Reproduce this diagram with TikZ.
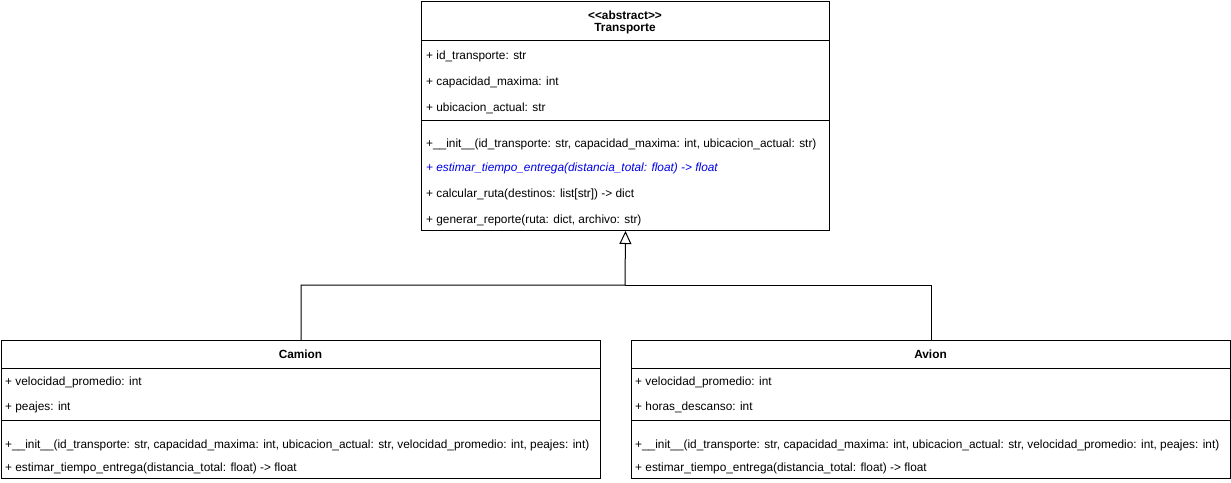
\documentclass[tikz,border=0pt]{standalone}
\usepackage{fontspec}
\setmainfont{Liberation Sans}[Ligatures=TeXOff]
\usetikzlibrary{arrows.meta}
\definecolor{absblue}{RGB}{0,0,230}
\tikzset{
  box/.style={draw=black, line width=1pt, anchor=north west, inner sep=0pt},
  sep/.style={draw=black, line width=1pt},
  member/.style={anchor=mid west, inner sep=0pt, font=\fontsize{11.85}{14}\selectfont},
  title/.style={anchor=center, inner sep=0pt, font=\fontsize{11.85}{14}\selectfont\bfseries, align=center},
  abstractm/.style={member, text=absblue, font=\fontsize{11.85}{14}\selectfont\itshape},
  conn/.style={draw=black, line width=1pt},
  inh/.style={conn, -{Triangle[open, length=13pt, width=12pt, line width=1pt]}}
}
\begin{document}
\begin{tikzpicture}[x=1pt, y=-1pt]
\useasboundingbox (0,0) rectangle (1231,482);
% Transporte
\node[box, minimum width=408pt, minimum height=229pt] (transp) at (421,1) {};
\draw[sep] (421,40.5) -- (829,40.5);
\draw[sep] (421,120) -- (829,120);
\node[title] (tstereo) at (625,15) {<<abstract>>};
\node[title] (tname) at (625,28.5) {Transporte};
\node[member] (ta1) at (426,57) {+ id\_transporte: str};
\node[member] (ta2) at (426,83) {+ capacidad\_maxima: int};
\node[member] (ta3) at (426,109) {+ ubicacion\_actual: str};
\node[member] (tm1) at (426,144.5) {+\_\_init\_\_(id\_transporte: str, capacidad\_maxima: int, ubicacion\_actual: str)};
\node[abstractm] (tm2) at (426,168.5) {+ estimar\_tiempo\_entrega(distancia\_total: float) -> float};
\node[member] (tm3) at (426,194.5) {+ calcular\_ruta(destinos: list[str]) -> dict};
\node[member] (tm4) at (426,220.5) {+ generar\_reporte(ruta: dict, archivo: str)};
% Camion
\node[box, minimum width=599pt, minimum height=138pt] (camion) at (1,340) {};
\draw[sep] (1,368) -- (600,368);
\draw[sep] (1,420) -- (600,420);
\node[title] (cname) at (300.5,354) {Camion};
\node[member] (ca1) at (5,383) {+ velocidad\_promedio: int};
\node[member] (ca2) at (5,408) {+ peajes: int};
\node[member] (cm1) at (5,446) {+\_\_init\_\_(id\_transporte: str, capacidad\_maxima: int, ubicacion\_actual: str, velocidad\_promedio: int, peajes: int)};
\node[member] (cm2) at (5,469) {+ estimar\_tiempo\_entrega(distancia\_total: float) -> float};
% Avion
\node[box, minimum width=599pt, minimum height=138pt] (avion) at (631,340) {};
\draw[sep] (631,368) -- (1230,368);
\draw[sep] (631,420) -- (1230,420);
\node[title] (aname) at (930.5,354) {Avion};
\node[member] (aa1) at (635,383) {+ velocidad\_promedio: int};
\node[member] (aa2) at (635,408) {+ horas\_descanso: int};
\node[member] (am1) at (635,446) {+\_\_init\_\_(id\_transporte: str, capacidad\_maxima: int, ubicacion\_actual: str, velocidad\_promedio: int, peajes: int)};
\node[member] (am2) at (635,469) {+ estimar\_tiempo\_entrega(distancia\_total: float) -> float};
% Inheritance
\coordinate (mid) at (625,285);
\draw[inh] (camion.north) |- (mid) -- (transp.south);
\draw[conn] (avion.north) |- (mid);
\end{tikzpicture}
\end{document}
